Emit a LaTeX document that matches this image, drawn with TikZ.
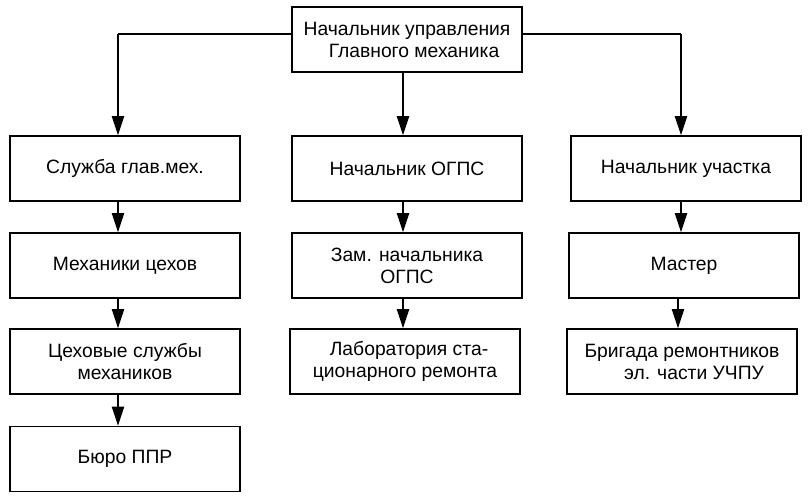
\documentclass[tikz,border=0pt]{standalone}
\usepackage{fontspec}
\setmainfont{Liberation Sans}
\usetikzlibrary{arrows.meta}
\begin{document}
\begin{tikzpicture}[x=1pt,y=-1pt,
  box/.style={draw=black,line width=1.6pt,minimum width=230pt,minimum height=65pt,inner sep=0pt,
    align=center,font=\fontsize{19.3pt}{22pt}\selectfont},
  conn/.style={line width=2pt,-{Triangle[length=19pt,width=12pt]}},
  plain/.style={line width=2pt}]
\fill[white] (0,0) rectangle (812,498);
\useasboundingbox (0,0) rectangle (812,498);
\node[box] (top) at (407,39.5) {Начальник управления\\\hspace*{14pt}Главного механика};
\node[box] (a1) at (125,168.5) {Служба глав.мех.};
\node[box] (a2) at (125,265.5) {Механики цехов};
\node[box] (a3) at (125,361.5) {Цеховые службы\\механиков};
\node[box] (a4) at (125,459) {Бюро ППР};
\node[box] (b1) at (407,168.5) {Начальник ОГПС};
\node[box] (b2) at (407,265.5) {Зам. начальника\\ОГПС};
\node[box] (b3) at (405,361.5) {\hspace*{8pt}Лаборатория ста-\\ционарного ремонта};
\node[box] (c1) at (686,168.5) {Начальник участка};
\node[box] (c2) at (684,265.5) {Мастер};
\node[box] (c3) at (682,361.5) {Бригада ремонтников\\\hspace*{24pt}эл. части УЧПУ};
\coordinate (la) at (118,34);
\coordinate (lc) at (681,34);
\coordinate (xb) at (403,0);
\draw[plain] (top.west |- la) -- (la);
\draw[conn] (la) -- (la |- a1.north);
\draw[plain] (top.east |- lc) -- (lc);
\draw[conn] (lc) -- (lc |- c1.north);
\draw[conn] (xb |- top.south) -- (xb |- b1.north);
\draw[conn] (la |- a1.south) -- (la |- a2.north);
\draw[conn] (la |- a2.south) -- (la |- a3.north);
\draw[conn] (la |- a3.south) -- (la |- a4.north);
\draw[conn] (xb |- b1.south) -- (xb |- b2.north);
\draw[conn] (xb |- b2.south) -- (xb |- b3.north);
\draw[conn] (lc |- c1.south) -- (lc |- c2.north);
\draw[conn] ([xshift=-3pt]lc |- c2.south) -- ([xshift=-3pt]lc |- c3.north);
\end{tikzpicture}
\end{document}
